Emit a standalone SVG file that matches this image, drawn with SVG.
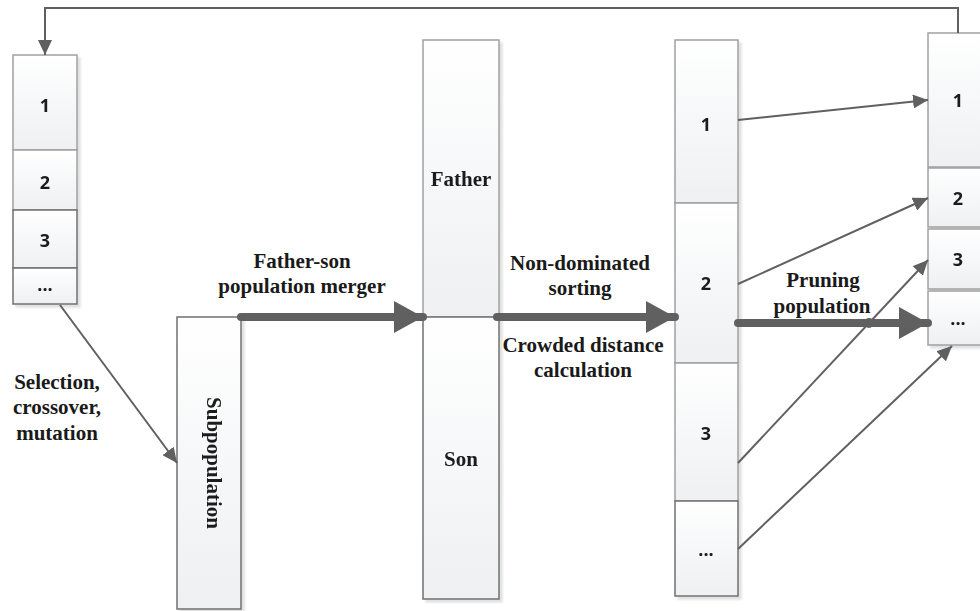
<svg xmlns="http://www.w3.org/2000/svg" width="980" height="611" viewBox="0 0 980 611">
  <defs>
    <linearGradient id="cellFill" x1="0" y1="0" x2="0" y2="1">
      <stop offset="0" stop-color="#ffffff"/>
      <stop offset="1" stop-color="#eef0f2"/>
    </linearGradient>
    <filter id="shadow" x="-10%" y="-10%" width="130%" height="130%">
      <feGaussianBlur in="SourceAlpha" stdDeviation="1.2"/>
      <feOffset dx="3" dy="3" result="b"/>
      <feComponentTransfer><feFuncA type="linear" slope="0.12"/></feComponentTransfer>
      <feMerge><feMergeNode/><feMergeNode in="SourceGraphic"/></feMerge>
    </filter>
    <marker id="headThin" markerUnits="userSpaceOnUse" markerWidth="16" markerHeight="14" refX="15" refY="7" orient="auto">
      <path d="M0,0 L15,7 L0,14 Z" fill="#606060"/>
    </marker>
    <marker id="headThick" markerUnits="userSpaceOnUse" markerWidth="30" markerHeight="32" refX="29" refY="16" orient="auto">
      <path d="M0,0 L29,16 L0,32 Z" fill="#606060"/>
    </marker>
  </defs>
  <style>
    .cell { fill: url(#cellFill); stroke: #a0a0a0; stroke-width: 1.5; }
    .cell.dark { stroke: #707070; }
    .num { font-family: "Open Sans", "Liberation Sans", sans-serif; font-weight: bold; font-size: 18px; fill: #1a1a1a; text-anchor: middle; }
    .lbl { font-family: "Liberation Serif", "Times New Roman", serif; font-weight: bold; font-size: 21px; fill: #1a1a1a; text-anchor: middle; }
    .thin { fill: none; stroke: #606060; stroke-width: 2; }
    .thick { fill: none; stroke: #606060; stroke-width: 8; stroke-linecap: round; }
  </style>

  <!-- initial population, four ranked slots -->
  <g id="population" filter="url(#shadow)">
    <rect class="cell" x="13" y="55" width="64" height="95"/>
    <rect class="cell" x="13" y="150" width="64" height="60"/>
    <rect class="cell dark" x="13" y="210" width="64" height="58"/>
    <rect class="cell dark" x="13" y="268" width="64" height="36"/>
    <text class="num" x="45" y="112">1</text>
    <text class="num" x="45" y="189">2</text>
    <text class="num" x="45" y="247">3</text>
    <text class="num" x="45" y="291">...</text>
  </g>

  <!-- offspring subpopulation -->
  <g id="subpopulation" filter="url(#shadow)">
    <rect class="cell dark" x="177" y="317" width="64" height="292"/>
    <text class="lbl" transform="translate(207 463) rotate(90)">Subpopulation</text>
  </g>

  <!-- merged father + son population -->
  <g id="merged" filter="url(#shadow)">
    <rect class="cell" x="423" y="40" width="76" height="277"/>
    <rect class="cell dark" x="423" y="317" width="76" height="282"/>
    <text class="lbl" x="461" y="186">Father</text>
    <text class="lbl" x="461" y="466">Son</text>
  </g>

  <!-- sorted fronts -->
  <g id="fronts" filter="url(#shadow)">
    <rect class="cell" x="675" y="40" width="63" height="163"/>
    <rect class="cell" x="675" y="203" width="63" height="160"/>
    <rect class="cell" x="675" y="363" width="63" height="138"/>
    <rect class="cell dark" x="675" y="501" width="63" height="95"/>
    <text class="num" x="706" y="131">1</text>
    <text class="num" x="706" y="290">2</text>
    <text class="num" x="706" y="440">3</text>
    <text class="num" x="706" y="556">...</text>
  </g>

  <!-- next generation -->
  <g id="nextgen" filter="url(#shadow)">
    <rect class="cell" x="928" y="33" width="60" height="134"/>
    <rect class="cell" x="928" y="168" width="60" height="59"/>
    <rect class="cell" x="928" y="229" width="60" height="60"/>
    <rect class="cell" x="928" y="291" width="60" height="54"/>
    <text class="num" x="958" y="107">1</text>
    <text class="num" x="958" y="205">2</text>
    <text class="num" x="958" y="266">3</text>
    <text class="num" x="958" y="325">...</text>
  </g>

  <!-- connectors -->
  <g id="connectors">
    <polyline class="thin" points="958,33 958,8 45,8 45,55" marker-end="url(#headThin)"/>
    <line class="thin" x1="60" y1="305" x2="177" y2="463" marker-end="url(#headThin)"/>
    <line class="thick" x1="241" y1="317" x2="423" y2="317" marker-end="url(#headThick)"/>
    <line class="thick" x1="497" y1="317" x2="675" y2="317" marker-end="url(#headThick)"/>
    <line class="thick" x1="738" y1="323" x2="928" y2="323" marker-end="url(#headThick)"/>
    <circle cx="869" cy="323" r="5" fill="#606060"/>
    <line class="thin" x1="738" y1="120" x2="928" y2="100" marker-end="url(#headThin)"/>
    <line class="thin" x1="738" y1="284" x2="928" y2="198" marker-end="url(#headThin)"/>
    <line class="thin" x1="738" y1="463" x2="928" y2="260" marker-end="url(#headThin)"/>
    <line class="thin" x1="738" y1="549" x2="952" y2="346" marker-end="url(#headThin)"/>
  </g>

  <!-- step labels -->
  <g id="labels">
    <text class="lbl" x="57" y="389">Selection,</text>
    <text class="lbl" x="57" y="414">crossover,</text>
    <text class="lbl" x="57" y="440">mutation</text>
    <text class="lbl" x="302" y="268">Father-son</text>
    <text class="lbl" x="302" y="293">population merger</text>
    <text class="lbl" x="580" y="270">Non-dominated</text>
    <text class="lbl" x="580" y="295">sorting</text>
    <text class="lbl" x="583" y="352">Crowded distance</text>
    <text class="lbl" x="583" y="377">calculation</text>
    <text class="lbl" x="823" y="287">Pruning</text>
    <text class="lbl" x="822" y="313">population</text>
  </g>
</svg>
